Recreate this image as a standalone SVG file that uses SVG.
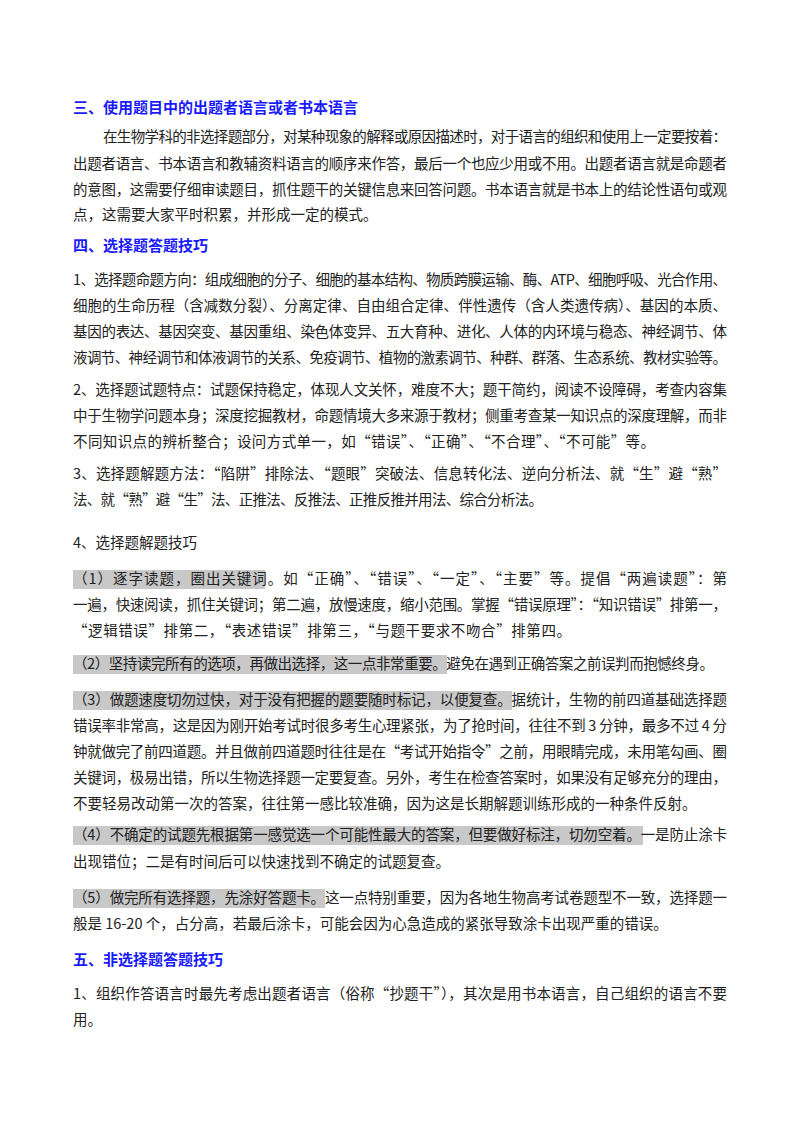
<svg xmlns="http://www.w3.org/2000/svg" width="800" height="1132" viewBox="0 0 800 1132">
<style>
text{font-family:"Noto Sans CJK SC","Liberation Serif",sans-serif;font-size:14.5px;fill:#222;font-variant-ligatures:none;font-feature-settings:"liga" 0,"clig" 0,"dlig" 0,"calt" 0}
.h{font-weight:bold;fill:#1a1aff;font-size:15px}
.hl{fill:#c8c8c8}
</style>
<rect width="800" height="1132" fill="#fff"/>
<g id="highlights">
<rect class="hl" x="73" y="570" width="192" height="19"/>
<rect class="hl" x="73" y="655" width="374" height="19"/>
<rect class="hl" x="73" y="691" width="439" height="19"/>
<rect class="hl" x="73" y="826" width="570" height="19"/>
<rect class="hl" x="73" y="889" width="252" height="19"/>
</g>
<g id="text">
<text class="h" x="73" y="113">三、使用题目中的出题者语言或者书本语言</text>
<text x="103" y="142" textLength="624" lengthAdjust="spacing">在生物学科的非选择题部分，对某种现象的解释或原因描述时，对于语言的组织和使用上一定要按着：</text>
<text x="73" y="169" textLength="654" lengthAdjust="spacing">出题者语言、书本语言和教辅资料语言的顺序来作答，最后一个也应少用或不用。出题者语言就是命题者</text>
<text x="73" y="195" textLength="654" lengthAdjust="spacing">的意图，这需要仔细审读题目，抓住题干的关键信息来回答问题。书本语言就是书本上的结论性语句或观</text>
<text x="73" y="220">点，这需要大家平时积累，并形成一定的模式。</text>
<text class="h" x="73" y="251">四、选择题答题技巧</text>
<text x="73" y="285" textLength="654" lengthAdjust="spacing">1、选择题命题方向：组成细胞的分子、细胞的基本结构、物质跨膜运输、酶、ATP、细胞呼吸、光合作用、</text>
<text x="73" y="311" textLength="654" lengthAdjust="spacing">细胞的生命历程（含减数分裂）、分离定律、自由组合定律、伴性遗传（含人类遗传病）、基因的本质、</text>
<text x="73" y="337" textLength="654" lengthAdjust="spacing">基因的表达、基因突变、基因重组、染色体变异、五大育种、进化、人体的内环境与稳态、神经调节、体</text>
<text x="73" y="363" textLength="654" lengthAdjust="spacing">液调节、神经调节和体液调节的关系、免疫调节、植物的激素调节、种群、群落、生态系统、教材实验等。</text>
<text x="73" y="395" textLength="654" lengthAdjust="spacing">2、选择题试题特点：试题保持稳定，体现人文关怀，难度不大；题干简约，阅读不设障碍，考查内容集</text>
<text x="73" y="421" textLength="654" lengthAdjust="spacing">中于生物学问题本身；深度挖掘教材，命题情境大多来源于教材；侧重考查某一知识点的深度理解，而非</text>
<text x="73" y="447" textLength="582" lengthAdjust="spacing">不同知识点的辨析整合；设问方式单一，如“错误”、“正确”、“不合理”、“不可能”等。</text>
<text x="73" y="479" textLength="654" lengthAdjust="spacing">3、选择题解题方法：“陷阱”排除法、“题眼”突破法、信息转化法、逆向分析法、就“生”避“熟”</text>
<text x="73" y="505" textLength="470" lengthAdjust="spacing">法、就“熟”避“生”法、正推法、反推法、正推反推并用法、综合分析法。</text>
<text x="73" y="548">4、选择题解题技巧</text>
<text x="73" y="584" textLength="654" lengthAdjust="spacing">（1）逐字读题，圈出关键词。如“正确”、“错误”、“一定”、“主要”等。提倡“两遍读题”：第</text>
<text x="73" y="610" textLength="654" lengthAdjust="spacing">一遍，快速阅读，抓住关键词；第二遍，放慢速度，缩小范围。掌握“错误原理”：“知识错误”排第一，</text>
<text x="73" y="636" textLength="498" lengthAdjust="spacing">“逻辑错误”排第二，“表述错误”排第三，“与题干要求不吻合”排第四。</text>
<text x="73" y="669" textLength="641" lengthAdjust="spacing">（2）坚持读完所有的选项，再做出选择，这一点非常重要。避免在遇到正确答案之前误判而抱憾终身。</text>
<text x="73" y="705" textLength="654" lengthAdjust="spacing">（3）做题速度切勿过快，对于没有把握的题要随时标记，以便复查。据统计，生物的前四道基础选择题</text>
<text x="73" y="731" textLength="654" lengthAdjust="spacing">错误率非常高，这是因为刚开始考试时很多考生心理紧张，为了抢时间，往往不到 3 分钟，最多不过 4 分</text>
<text x="73" y="757" textLength="654" lengthAdjust="spacing">钟就做完了前四道题。并且做前四道题时往往是在“考试开始指令”之前，用眼睛完成，未用笔勾画、圈</text>
<text x="73" y="783" textLength="654" lengthAdjust="spacing">关键词，极易出错，所以生物选择题一定要复查。另外，考生在检查答案时，如果没有足够充分的理由，</text>
<text x="73" y="809">不要轻易改动第一次的答案，往往第一感比较准确，因为这是长期解题训练形成的一种条件反射。</text>
<text x="73" y="840" textLength="654" lengthAdjust="spacing">（4）不确定的试题先根据第一感觉选一个可能性最大的答案，但要做好标注，切勿空着。一是防止涂卡</text>
<text x="73" y="867">出现错位；二是有时间后可以快速找到不确定的试题复查。</text>
<text x="73" y="903" textLength="654" lengthAdjust="spacing">（5）做完所有选择题，先涂好答题卡。这一点特别重要，因为各地生物高考试卷题型不一致，选择题一</text>
<text x="73" y="929">般是 16-20 个，占分高，若最后涂卡，可能会因为心急造成的紧张导致涂卡出现严重的错误。</text>
<text class="h" x="73" y="965">五、非选择题答题技巧</text>
<text x="73" y="999" textLength="654" lengthAdjust="spacing">1、组织作答语言时最先考虑出题者语言（俗称“抄题干”），其次是用书本语言，自己组织的语言不要</text>
<text x="73" y="1025">用。</text>
</g>
</svg>
